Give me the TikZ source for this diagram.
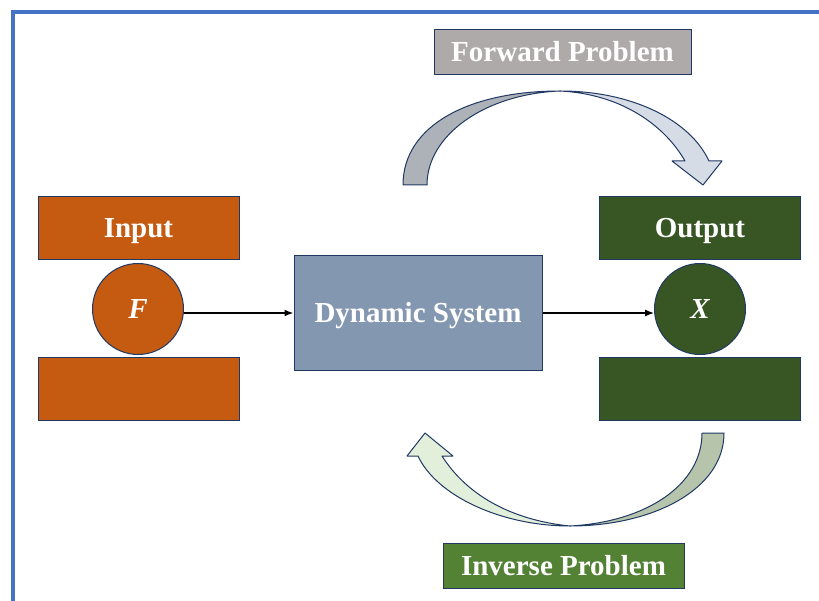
\documentclass[tikz,border=0pt]{standalone}
\usepackage{fontspec}
\setmainfont{Liberation Serif}
\usetikzlibrary{arrows.meta}

\definecolor{frameblue}{HTML}{4472C4}
\definecolor{edgenavy}{HTML}{203864}
\definecolor{inorange}{HTML}{C55A11}
\definecolor{outgreen}{HTML}{375623}
\definecolor{invgreen}{HTML}{548235}
\definecolor{sysblue}{HTML}{8497B0}
\definecolor{fwdgray}{HTML}{AEAAAA}
\definecolor{fwddark}{HTML}{ADB2B9}
\definecolor{fwdlight}{HTML}{D6DCE5}
\definecolor{invdark}{HTML}{B7C4AC}
\definecolor{invlight}{HTML}{E2EFDA}

\begin{document}
\begin{tikzpicture}
  [  
     x=1pt, y=-1pt,
     font=\fontsize{29}{34}\selectfont\bfseries,
     slab/.style={shape=rectangle,
                  draw=edgenavy,
                  line width=1pt,
                  minimum width=201pt,
                  minimum height=63pt,
                  inner sep=0pt,
                  text height=19pt,
                  text depth=0pt,
                  text=white},
     disc/.style={shape=circle,
                  draw=edgenavy,
                  line width=1pt,
                  minimum size=91pt,
                  inner sep=0pt,
                  text height=19pt,
                  text depth=0pt,
                  text=white,
                  font=\fontsize{29}{34}\selectfont\bfseries\itshape},
     tag/.style={shape=rectangle,
                  draw=edgenavy,
                  line width=1pt,
                  minimum height=45pt,
                  inner sep=0pt,
                  text height=19pt,
                  text depth=0pt,
                  text=white},
     curl/.style={draw=edgenavy,
                  line width=1pt,
                  line join=round},
     flow/.style={-{Latex[length=9pt,width=7pt]},
                  line width=1.6pt}
  ]
    \useasboundingbox (0,0) rectangle (819,601);
    % frame
    \draw[frameblue,line width=4pt] (12.5,605) -- (12.5,12) -- (823,12);

    % input side
    \node[slab,fill=inorange] (inTop) at (138.5,228.5) {Input};
    \node[disc,fill=inorange] (F) at (138,309) {F};
    \node[slab,fill=inorange] (inBot) at (138.5,389) {};

    % system
    \node[slab,fill=sysblue,minimum width=248pt,minimum height=115pt] (sys) at (418,313.5) {Dynamic System};

    % output side
    \node[slab,fill=outgreen] (outTop) at (700,228.5) {Output};
    \node[disc,fill=outgreen] (X) at (700,309) {X};
    \node[slab,fill=outgreen] (outBot) at (700,389) {};

    % problem labels
    \node[tag,fill=fwdgray,minimum width=257pt] (fwd) at (562.5,52.5) {Forward Problem};
    \node[tag,fill=invgreen,minimum width=241pt] (inv) at (563.5,565.5) {Inverse Problem};

    % straight arrows
    \draw[flow] (F.-5) -- (F.-5 -| sys.west);
    \draw[flow] (sys.east |- X.185) -- (X.185);

    % forward curved arrow
    \path[curl,fill=fwddark] (403,185) .. controls (403,125) and (470,91) .. (560,91)
        .. controls (485,94) and (427,135) .. (427,185) -- cycle;
    \path[curl,fill=fwdlight] (560,91) .. controls (632,91) and (690,120) .. (709,161)
        -- (722,161) -- (703,185) -- (672,161) -- (685,161)
        .. controls (665,126) and (622,94) .. (560,91) -- cycle;

    % inverse curved arrow
    \path[curl,fill=invdark] (724,433) .. controls (724,490) and (652,526) .. (570,526)
        .. controls (646,522) and (702,485) .. (702,433) -- cycle;
    \path[curl,fill=invlight] (570,526) .. controls (500,526) and (436,495) .. (418,456)
        -- (407,456) -- (425,433) -- (453,456) -- (442,456)
        .. controls (466,494) and (510,520) .. (570,526) -- cycle;

\end{tikzpicture}
\end{document}
